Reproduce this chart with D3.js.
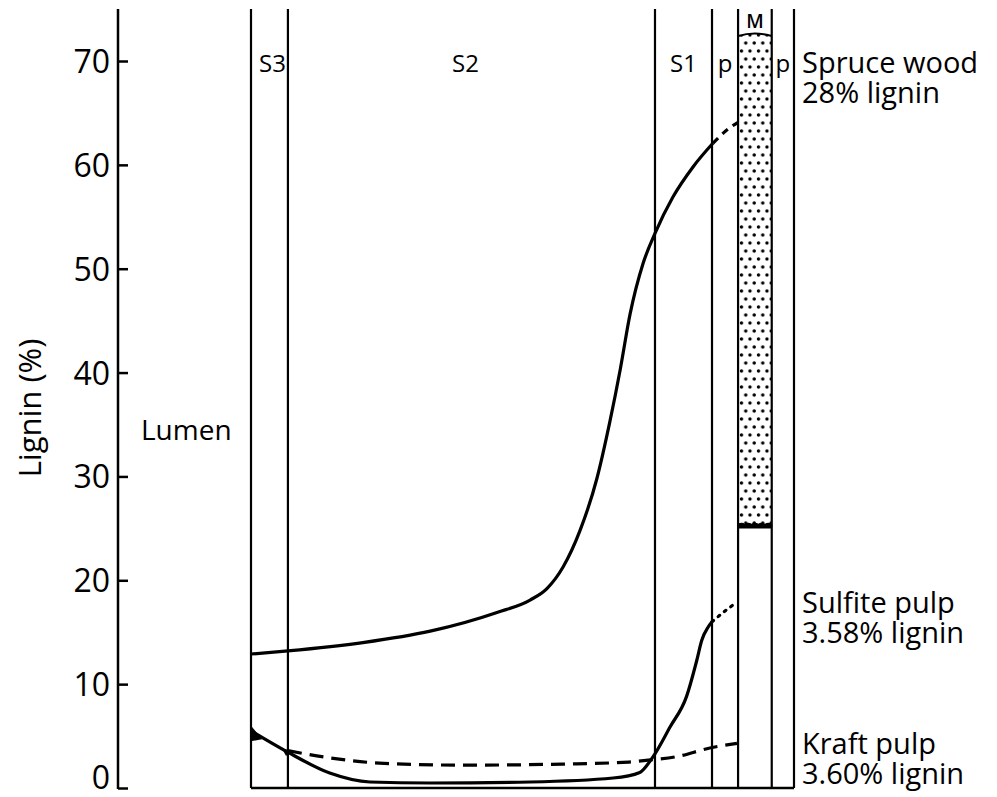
<!DOCTYPE html>
<html>
<head>
<meta charset="utf-8">
<script src="https://cdn.jsdelivr.net/npm/d3@7"></script>
<style>
  body { margin: 0; background: #fff; }
  text { font-family: "Open Sans", sans-serif; fill: #000; }
</style>
</head>
<body>
<div id="chart"></div>
<script>
var svgWidth = 997;
var svgHeight = 797;

// y axis ticks (lignin %)
var yTicks = [0, 10, 20, 30, 40, 50, 60, 70];

// cell wall layers, position in relative units across the wall (0 = lumen side)
var layerNames = ["S3", "S2", "S1", "p", "M", "p"];
var layerEdges = [0, 6.8, 74.4, 84.9, 89.7, 95.9, 100];

// spruce wood, solid part and dashed extension into middle lamella
var spruceX = [0, 6.8, 20.6, 33.0, 45.3, 51.4, 54.5, 57.5, 60.6, 63.7, 66.1, 68.0, 69.8, 72.2, 74.4, 77.7, 81.4, 85.1];
var spruceY = [12.9, 13.2, 14.0, 15.1, 16.9, 18.1, 19.2, 21.3, 24.8, 29.8, 35.3, 40.3, 45.6, 50.5, 53.4, 56.9, 59.8, 62.1];
var spruceExtX = [85.1, 88.0, 89.7];
var spruceExtY = [62.1, 63.5, 64.1];

// sulfite pulp, solid part and dotted extension
var sulfiteX = [0, 6.6, 14.5, 21.9, 33.0, 51.4, 66.7, 71.6, 73.9, 77.2, 80.2, 82.1, 83.0, 84.2, 84.9];
var sulfiteY = [5.5, 3.5, 1.44, 0.58, 0.48, 0.58, 0.96, 1.5, 2.9, 5.9, 8.8, 12.3, 14.2, 15.5, 16.0];
var sulfiteExtX = [84.9, 87.2, 89.5];
var sulfiteExtY = [16.0, 17.0, 17.9];

// kraft pulp (dashed)
var kraftX = [6.8, 14.5, 23.6, 38.9, 57.3, 69.6, 73.6, 78.2, 84.5, 89.5];
var kraftY = [3.6, 2.9, 2.4, 2.2, 2.3, 2.5, 2.7, 3.0, 3.85, 4.3];

// middle lamella range
var mlTop = 72.6;
var mlBottom = 25.2;

var labels = [
  { lines: ["Spruce wood", "28% lignin"], y: 73 },
  { lines: ["Sulfite pulp", "3.58% lignin"], y: 613 },
  { lines: ["Kraft pulp", "3.60% lignin"], y: 754 }
];

var svg = d3.select("#chart")
  .append("svg")
  .attr("width", svgWidth)
  .attr("height", svgHeight);

var x = d3.scaleLinear().domain([0, 100]).range([251, 794]);
var y = d3.scaleLinear().domain([0, 70]).range([788, 61]);
var yTop = y(75);

// dot pattern for the middle lamella
var defs = svg.append("defs");
var pat = defs.append("pattern")
  .attr("id", "dots")
  .attr("patternUnits", "userSpaceOnUse")
  .attr("x", 739)
  .attr("width", 8.5)
  .attr("height", 16);
pat.append("circle").attr("cx", 2.5).attr("cy", 3).attr("r", 1.7).attr("fill", "#000");
pat.append("circle").attr("cx", 6.75).attr("cy", 11).attr("r", 1.7).attr("fill", "#000");

// middle lamella stippled block, arched top
var mx0 = x(layerEdges[4]), mx1 = x(layerEdges[5]);
var mTopY = y(mlTop), mBotY = y(mlBottom);
svg.append("path")
  .attr("d", "M" + mx0 + "," + (mTopY + 2) +
    " Q" + ((mx0 + mx1) / 2) + "," + (mTopY - 3) + " " + mx1 + "," + (mTopY + 2) +
    " L" + mx1 + "," + mBotY + " L" + mx0 + "," + mBotY + "Z")
  .attr("fill", "url(#dots)");
svg.append("path")
  .attr("d", "M" + mx0 + "," + (mTopY + 2) +
    " Q" + ((mx0 + mx1) / 2) + "," + (mTopY - 3) + " " + mx1 + "," + (mTopY + 2))
  .attr("fill", "none").attr("stroke", "#000").attr("stroke-width", 2);

// scalloped lower edge
var scal = "M" + mx0 + "," + mBotY;
var nS = 5, sw = (mx1 - mx0) / nS;
for (var i = 0; i < nS; i++) {
  scal += " A" + (sw / 2) + "," + (sw / 2.5) + " 0 0 1 " + (mx0 + sw * (i + 1)) + "," + mBotY;
}
svg.append("path").attr("d", scal)
  .attr("fill", "#000").attr("stroke", "#000").attr("stroke-width", 1.5);
svg.append("line")
  .attr("x1", mx0).attr("x2", mx1).attr("y1", mBotY + 1).attr("y2", mBotY + 1)
  .attr("stroke", "#000").attr("stroke-width", 2.5);

// y axis
var yAxis = d3.axisLeft(y)
  .tickValues(yTicks)
  .tickSize(-10)
  .tickPadding(8)
  .tickFormat(d3.format("d"));
var gAxis = svg.append("g")
  .attr("transform", "translate(118,0)")
  .call(yAxis);
gAxis.select(".domain").remove();
gAxis.selectAll(".tick line").attr("stroke", "#000").attr("stroke-width", 2.5);
gAxis.selectAll(".tick text")
  .style("font-family", "'Open Sans', sans-serif")
  .style("font-size", "32px")
  .attr("fill", "#000")
  .attr("dy", d => d === 0 ? "0em" : "0.36em");
gAxis.append("line")
  .attr("x1", 0).attr("x2", 0).attr("y1", yTop).attr("y2", y(0) + 1)
  .attr("stroke", "#000").attr("stroke-width", 2.5);

svg.append("text")
  .attr("transform", "translate(41," + 408 + ") rotate(-90)")
  .attr("text-anchor", "middle")
  .style("font-size", "31px")
  .text("Lignin (%)");

svg.append("text")
  .attr("x", 141).attr("y", 440)
  .style("font-size", "28px")
  .text("Lumen");

// layer boundaries
svg.selectAll(".edge")
  .data(layerEdges)
  .enter()
  .append("line")
  .attr("class", "edge")
  .attr("x1", d => x(d)).attr("x2", d => x(d))
  .attr("y1", yTop).attr("y2", y(0))
  .attr("stroke", "#000")
  .attr("stroke-width", 2.2);

svg.append("line")
  .attr("x1", x(0)).attr("x2", x(100))
  .attr("y1", y(0)).attr("y2", y(0))
  .attr("stroke", "#000").attr("stroke-width", 2.5);

// layer names
svg.selectAll(".layerName")
  .data(layerNames)
  .enter()
  .append("text")
  .attr("class", "layerName")
  .attr("x", (d, i) => (x(layerEdges[i]) + x(layerEdges[i + 1])) / 2 + (d === "S2" ? -6 : d === "S3" ? 3 : 0))
  .attr("y", d => d === "M" ? 28 : 72)
  .attr("text-anchor", "middle")
  .style("font-size", d => d === "M" ? "19px" : "24px")
  .style("font-weight", d => d === "M" ? "600" : "400")
  .text(d => d);

// curves
var line = d3.line()
  .x(d => x(d[0]))
  .y(d => y(d[1]))
  .curve(d3.curveMonotoneX);

function drawCurve(xs, ys, dash, width) {
  var pts = xs.map((v, i) => [v, ys[i]]);
  svg.append("path")
    .datum(pts)
    .attr("d", line)
    .attr("fill", "none")
    .attr("stroke", "#000")
    .attr("stroke-width", width)
    .attr("stroke-linecap", dash === "2,6" ? "round" : "butt")
    .attr("stroke-dasharray", dash);
}

drawCurve(spruceX, spruceY, null, 3.2);
drawCurve(spruceExtX, spruceExtY, "7,6", 3.2);
drawCurve(sulfiteX, sulfiteY, null, 3.2);
drawCurve(sulfiteExtX, sulfiteExtY, "2,6", 3.2);
drawCurve(kraftX, kraftY, "14,8", 3.2);

// small blobs at the S3 edges where the curves start
svg.append("path")
  .attr("d", "M" + x(0) + "," + y(6.0) + " L" + (x(0) + 11) + "," + y(4.7) + " L" + x(0) + "," + y(4.5) + "Z")
  .attr("fill", "#000");
svg.append("path")
  .attr("d", "M" + (x(6.8) - 6) + "," + y(3.8) + " L" + (x(6.8) + 8) + "," + y(3.5) + " L" + (x(6.8) - 2) + "," + y(3.1) + "Z")
  .attr("fill", "#000");

// curve labels at right
labels.forEach(function(lab) {
  lab.lines.forEach(function(s, i) {
    svg.append("text")
      .attr("x", 802)
      .attr("y", lab.y + i * 30)
      .style("font-size", "29px")
      .text(s);
  });
});
</script>
</body>
</html>
